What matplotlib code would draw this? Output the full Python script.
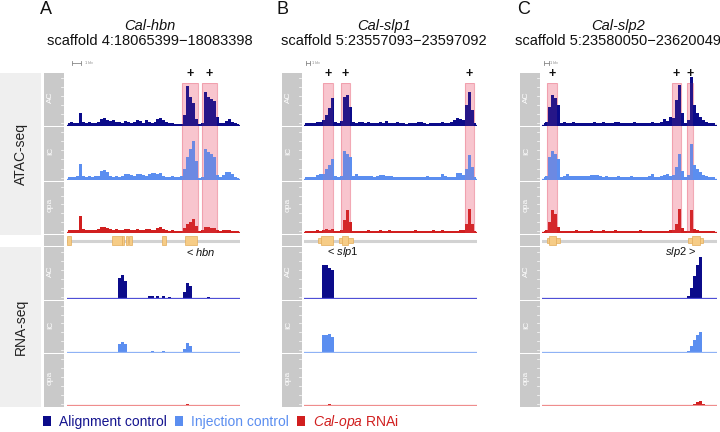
import numpy as np
import matplotlib
matplotlib.use('Agg')
import matplotlib.pyplot as plt
from matplotlib.patches import Patch, Rectangle
from matplotlib.transforms import blended_transform_factory

plt.rcParams['font.family'] = ['Liberation Sans', 'DejaVu Sans']
plt.rcParams['mathtext.fontset'] = 'custom'
plt.rcParams['mathtext.it'] = 'Liberation Sans:italic'
plt.rcParams['mathtext.rm'] = 'Liberation Sans'

# ---------------- data ----------------
panel_letters = ['A', 'B', 'C']
gene_names = ['Cal-hbn', 'Cal-slp1', 'Cal-slp2']
loci = ['scaffold 4:18065399\u221218083398',
        'scaffold 5:23557093\u221223597092',
        'scaffold 5:23580050\u221223620049']
spans_kb = [18.0, 40.0, 40.0]
track_names = ['AC', 'IC', 'opa']

atac_A_AC = [2,3,2,2,12,3,2,3,2,2, 3,6,7,5,4,5,3,3,2,4, 3,2,3,5,4,2,5,3,2,3,
             6,7,5,3,2,2,1,1,1,10, 39,28,22,6,1,2,33,28,26,24, 8,2,2,4,6,3,2,1]
atac_A_IC = [2,2,2,3,15,3,2,3,2,3, 3,8,9,7,3,2,3,2,3,5, 5,4,3,5,5,4,3,5,6,6,
             5,6,3,2,2,3,2,2,3,10, 22,30,38,18,1,2,30,27,25,22, 4,2,4,7,7,5,2,1]
atac_A_opa = [2,2,2,2,16,3,2,2,2,2, 3,5,5,4,3,2,3,2,2,3, 3,2,2,3,2,2,3,3,2,2,
              4,5,3,2,1,2,1,1,1,4, 8,10,13,6,1,2,5,5,4,4, 2,1,2,2,2,1,1,1]
rna_A_AC = [0,0,0,0,0,0,0,0,0,0, 0,0,0,0,0,0,0,20,23,17, 0,0,0,0,0,0,0,2,2,0,
            2,0,2,0,1,0,0,0,0,6, 15,12,0,0,0,0,0,1,0,0, 0,0,0,0,0,0,0,0]
rna_A_IC = [0,0,0,0,0,0,0,0,0,0, 0,0,0,0,0,0,0,8,10,8, 0,0,0,0,0,0,0,0,1,0,
            0,0,1,0,0,0,0,0,0,3, 9,6,0,0,0,0,0,0,0,0, 0,0,0,0,0,0,0,0]
rna_A_opa = [0,0,0,0,0,0,0,0,0,0, 0,0,0,0,0,0,0,0,0,0, 0,0,0,0,0,0,0,0,0,0,
             0,0,0,0,0,0,0,0,0,0, 0.5,0,0,0,0,0,0,0,0,0, 0,0,0,0,0,0,0,0]

atac_B_AC = [2,2,2,2,3,3,5,10,17,27, 3,2,4,28,30,18,3,2,3,3, 2,3,2,2,2,3,2,4,2,2,
             2,3,2,2,1,2,2,2,3,3, 2,1,2,2,2,2,3,2,2,3, 5,7,6,5,20,33,15,2]
atac_B_IC = [2,2,2,2,4,5,5,10,14,20, 3,2,3,28,25,22,3,5,3,3, 3,3,3,2,3,4,4,3,3,3,
             2,2,2,2,2,2,2,2,2,2, 2,3,2,2,2,2,5,3,2,2, 2,6,6,4,10,24,12,2]
atac_B_opa = [1,1,1,1,2,1,2,3,2,3, 1,1,2,12,22,10,1,1,1,1, 1,2,1,1,1,2,1,1,2,1,
              1,1,1,1,1,1,1,2,1,1, 1,1,1,2,1,1,2,1,1,1, 1,1,2,2,8,23,8,1]
rna_B_AC = [0,0,0,0,0,0,33,33,30,28, 0,0,0,0,0,0,0,0,0,0, 0,0,0,0,0,0,0,0,0,0,
            0,0,0,0,0,0,0,0,0,0, 0,0,0,0,0,0,0,0,0,0, 0,0,0,0,0,0,0,0]
rna_B_IC = [0,0,0,0,0,0,17,17,18,15, 0,0,0,0,0,0,0,0,0,0, 0,0,0,0,0,0,0,0,0,0,
            0,0,0,0,0,0,0,0,0,0, 0,0,0,0,0,0,0,0,0,0, 0,0,0,0,0,0,0,0]
rna_B_opa = [0,0,0,0,0,0,0,0,0.5,0, 0,0,0,0,0,0,0,0,0,0, 0,0,0,0,0,0,0,0,0,0,
             0,0,0,0,0,0,0,0,0,0, 0,0,0,0,0,0,0,0,0,0, 0,0,0,0,0,0,0,0]

atac_C_AC = [2,3,18,30,27,20,2,3,2,2, 3,2,2,2,2,2,2,3,2,2, 3,2,2,2,3,3,2,2,2,2,
             3,2,2,2,2,2,3,2,2,3, 6,4,8,7,25,40,12,2,5,48, 20,12,8,5,3,2,2,2]
atac_C_IC = [2,3,22,28,25,20,2,3,5,3, 3,3,3,3,3,3,4,4,4,3, 2,3,2,2,2,3,2,2,2,3,
             2,2,2,2,2,3,5,2,2,3, 4,5,3,4,12,25,8,2,4,35, 14,10,7,4,3,2,2,2]
atac_C_opa = [1,2,10,22,18,5,1,1,1,1, 1,2,1,1,1,1,2,1,1,1, 2,1,1,1,2,1,1,1,1,1,
              1,1,2,1,1,1,1,1,1,1, 1,1,2,2,8,23,4,1,1,22, 3,2,1,1,1,1,1,1]
rna_C_AC = [0,0,0,0,0,0,0,0,0,0, 0,0,0,0,0,0,0,0,0,0, 0,0,0,0,0,0,0,0,0,0,
            0,0,0,0,0,0,0,0,0,0, 0,0,0,0,0,0,0,0,2,10, 22,33,41,0,0,0,0,0]
rna_C_IC = [0,0,0,0,0,0,0,0,0,0, 0,0,0,0,0,0,0,0,0,0, 0,0,0,0,0,0,0,0,0,0,
            0,0,0,0,0,0,0,0,0,0, 0,0,0,0,0,0,0,0,1,6, 12,17,20,0,0,0,0,0]
rna_C_opa = [0,0,0,0,0,0,0,0,0,0, 0,0,0,0,0,0,0,0,0,0, 0,0,0,0,0,0,0,0,0,0,
             0,0,0,0,0,0,0,0,0,0, 0,0,0,0,0,0,0,0,0,0, 1,3,4,1,0,0,0,0]

atac_data = [[atac_A_AC, atac_A_IC, atac_A_opa],
             [atac_B_AC, atac_B_IC, atac_B_opa],
             [atac_C_AC, atac_C_IC, atac_C_opa]]
rna_data = [[rna_A_AC, rna_A_IC, rna_A_opa],
            [rna_B_AC, rna_B_IC, rna_B_opa],
            [rna_C_AC, rna_C_IC, rna_C_opa]]

# highlighted regions (kb from locus start)
highlights = [[(11.97, 13.63), (14.05, 15.61)],
              [(4.4, 6.7), (8.6, 10.6), (37.2, 39.3)],
              [(1.1, 3.4), (29.7, 31.8), (33.1, 34.5)]]

# gene models (start kb, end kb, kind)
exons = [[(0.0, 0.45, 'thick'), (4.67, 5.71, 'thick'), (5.71, 5.95, 'thick'),
          (6.12, 6.33, 'thick'), (6.49, 6.73, 'thick'), (9.9, 10.3, 'thick'),
          (12.3, 13.5, 'thick')],
         [(3.2, 4.2, 'thin'), (3.9, 6.7, 'thick'), (8.1, 11.3, 'thin'), (8.8, 10.2, 'thick')],
         [(1.1, 4.1, 'thin'), (1.6, 3.2, 'thick'), (33.4, 36.8, 'thin'), (34.3, 36.1, 'thick')]]
gene_labels = [r'< $\mathit{hbn}$', r'< $\mathit{slp1}$', r'$\mathit{slp2}$ >']
gene_label_pos = [13.95, 9.0, 31.8]

legend_labels = ['Alignment control', 'Injection control', r'$\mathit{Cal}$-$\mathit{opa}$ RNAi']

# ---------------- style ----------------
fill_cols = ['#0b0b8a', '#5b8ef0', '#d11f1f']
base_cols = ['#4f4fd6', '#8fb2f5', '#ef8d8d']
legend_text_cols = ['#14148f', '#5b8ef0', '#d11f1f']
strip_col = '#c9c9c9'
outer_col = '#efefef'

W, H = 720, 432
fig = plt.figure(figsize=(7.2, 4.32), dpi=100)


def rect(x0, y0, x1, y1):
    return [x0 / W, 1 - y1 / H, (x1 - x0) / W, (y1 - y0) / H]


def blank(ax):
    ax.set_xticks([])
    ax.set_yticks([])
    for s in ax.spines.values():
        s.set_visible(False)


# outer assay labels
for (y0, y1, lab) in [(73, 235, 'ATAC-seq'), (247, 407, 'RNA-seq')]:
    ax = fig.add_axes(rect(0, y0, 41, y1))
    ax.set_facecolor(outer_col)
    blank(ax)
    ax.text(0.5, 0.5, lab, rotation=90, ha='center', va='center',
            fontsize=10, color='#222222', transform=ax.transAxes)

strip_x = [44, 282, 520]
sig_x = [67, 304, 542]
sig_w = [173, 173, 175]
title_cx = [150, 384, 618]
letter_x = [40, 276, 517]

atac_rows = [(73, 126, 125), (127, 181, 179), (182, 234, 232)]
gene_row = (235, 246)
rna_rows = [(247, 300, 298), (301, 353, 352), (354, 407, 405)]
TRACK_H = 52

for p in range(3):
    span = spans_kb[p]
    sx0, sx1 = sig_x[p], sig_x[p] + sig_w[p]

    fig.text(letter_x[p] / W, 1 - 9 / H, panel_letters[p], fontsize=13,
             ha='left', va='center', color='#111111')
    fig.text(title_cx[p] / W, 1 - 26 / H, gene_names[p], fontsize=10.5,
             style='italic', ha='center', va='center', color='#111111')
    fig.text(title_cx[p] / W, 1 - 41 / H, loci[p], fontsize=10.5,
             ha='center', va='center', color='#111111')

    # highlight background (behind signal)
    axb = fig.add_axes(rect(sx0, 83, sx1, 233), zorder=-1)
    axb.set_facecolor('none')
    blank(axb)
    axb.set_xlim(0, span)
    axb.set_ylim(0, 1)
    for (s, e) in highlights[p]:
        axb.add_patch(Rectangle((s, 0), e - s, 1, facecolor='#fad3d9',
                                edgecolor='#f2a9b5', lw=0.8))

    # gray strips
    all_rows = [(r[0], r[1], track_names[i]) for i, r in enumerate(atac_rows)] + \
               [(gene_row[0], gene_row[1], '')] + \
               [(r[0], r[1], track_names[i]) for i, r in enumerate(rna_rows)]
    for (y0, y1, lab) in all_rows:
        ax = fig.add_axes(rect(strip_x[p], y0, strip_x[p] + 20, y1))
        ax.set_facecolor(strip_col)
        blank(ax)
        if lab:
            ax.text(0.32, 0.55, lab, rotation=90, ha='center', va='center',
                    fontsize=6, color='white', transform=ax.transAxes)
            for k in range(6):
                ax.plot([0.86, 0.95], [0.06 + k * 0.17] * 2, color='white',
                        lw=0.5, transform=ax.transAxes)

    # signal tracks
    for kind, rows, data in [('atac', atac_rows, atac_data[p]), ('rna', rna_rows, rna_data[p])]:
        for t in range(3):
            vals = np.array(data[t], dtype=float)
            n = len(vals)
            xs = (np.arange(n) + 0.5) * span / n
            base = rows[t][2]
            ax = fig.add_axes(rect(sx0, base - TRACK_H, sx1, base + 1))
            ax.set_facecolor('none')
            blank(ax)
            ax.set_xlim(0, span)
            ax.set_ylim(-1, TRACK_H)
            ax.fill_between(xs, 0, vals, step='mid', color=fill_cols[t], lw=0)
            lc = fill_cols[t] if kind == 'atac' else base_cols[t]
            ax.axhline(0, color=lc, lw=0.9)
            if kind == 'atac' and t == 0:
                tr = blended_transform_factory(ax.transData, ax.transAxes)
                yb = 1 + 10 / (TRACK_H + 1)
                ax.plot([0.5, 1.5], [yb, yb], color='#888888', lw=0.6,
                        transform=tr, clip_on=False)
                for xe in (0.5, 1.5):
                    ax.plot([xe, xe], [yb - 0.03, yb + 0.03], color='#888888',
                            lw=0.6, transform=tr, clip_on=False)
                ax.text(1.9, yb, '1 kb', fontsize=3, color='#888888', va='center',
                        ha='left', transform=tr, clip_on=False)

    # gene track
    ax = fig.add_axes(rect(sx0, gene_row[0], sx1, gene_row[1]))
    ax.set_facecolor('none')
    blank(ax)
    ax.set_xlim(0, span)
    ax.set_ylim(-1, 1)
    ax.axhline(0, color='#d2d2d2', lw=2.2, zorder=1)
    for (s, e, k) in exons[p]:
        h = 1.5 if k == 'thick' else 0.9
        ax.add_patch(Rectangle((s, -h / 2), e - s, h, facecolor='#f6cc86',
                               edgecolor='#e3ac5a', lw=0.5, zorder=2))
    ax.text(gene_label_pos[p], -2.1, gene_labels[p], fontsize=8, ha='center',
            va='center', color='#111111', clip_on=False)

    # light overlay tint + plus signs
    ax = fig.add_axes(rect(sx0, 83, sx1, 233), zorder=5)
    ax.set_facecolor('none')
    blank(ax)
    ax.set_xlim(0, span)
    ax.set_ylim(0, 1)
    tr = blended_transform_factory(ax.transData, ax.transAxes)
    for (s, e) in highlights[p]:
        ax.add_patch(Rectangle((s, 0), e - s, 1, facecolor=(0.93, 0.40, 0.50, 0.12),
                               edgecolor='none'))
        ax.text((s + e) / 2, 1 + 9 / 150, '+', fontsize=9, fontweight='bold',
                ha='center', va='center', transform=tr, color='#111111')

# legend
handles = [Patch(facecolor=c, edgecolor='none') for c in fill_cols]
leg = fig.legend(handles, legend_labels, loc='center left',
                 bbox_to_anchor=(43 / W, 1 - 422 / H), ncol=3, frameon=False,
                 fontsize=10, handlelength=0.55, handleheight=0.8,
                 handletextpad=0.6, columnspacing=0.6, borderpad=0,
                 borderaxespad=0)
for txt, c in zip(leg.get_texts(), legend_text_cols):
    txt.set_color(c)

fig.savefig('out.png', dpi=100)
